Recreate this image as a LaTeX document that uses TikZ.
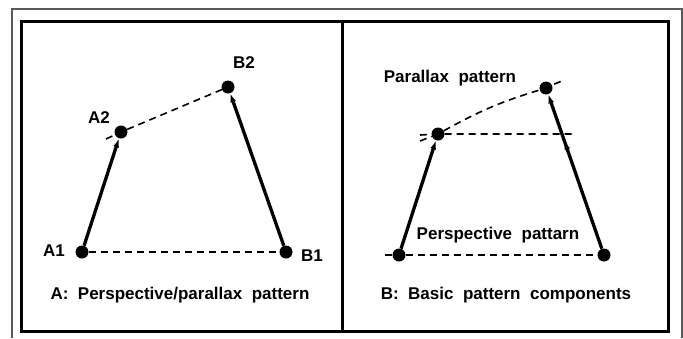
\documentclass[tikz,border=0pt]{standalone}
\usepackage{fontspec}
\setmainfont{Liberation Sans}
\usetikzlibrary{arrows.meta,decorations.markings}
\begin{document}
\begin{tikzpicture}[x=1pt,y=-1pt,
  dot/.style={circle,fill=black,inner sep=0pt,minimum size=13pt},
  lbl/.style={font=\fontsize{17}{20}\selectfont\bfseries,inner sep=0pt},
  dsh/.style={line width=1.6pt,dash pattern=on 7pt off 5pt},
  vec/.style={line width=3.3pt,-{Latex[length=9pt,width=6pt]}},
  midarrow/.style={postaction={decorate},decoration={markings,mark=at position #1 with {\arrow{Latex[length=9pt,width=6pt]}}}},
  panel/.style={line width=3pt},
  outer/.style={draw=black!65,line width=2pt}]
\useasboundingbox (0,0) rectangle (683,338);
% frames
\draw[outer] (12,338) -- (12,9) -- (682,9) -- (682,338);
\draw[panel] (21,21) rectangle (668,331);
\draw[panel] (342,21) -- (342,331);
% ---- panel A ----
\node[dot] (a1) at (82,252) {};
\node[dot] (b1) at (286,252) {};
\node[dot] (a2) at (121,132) {};
\node[dot] (b2) at (228,87) {};
\coordinate (a2x) at (106,139);
\draw[dsh] (a1) -- (b1);
\draw[dsh] (a2x) -- (a2) -- (b2);
\draw[vec] (a1) -- (a2);
\draw[vec] (b1) -- (b2);
\node[lbl] (la1) at (54,251) {A1};
\node[lbl] (lb1) at (312,256) {B1};
\node[lbl] (la2) at (99,118) {A2};
\node[lbl] (lb2) at (244,63) {B2};
\node[lbl] (capa) at (180,295) {A:\ \ Perspective/parallax\ \ pattern};
% ---- panel B ----
\node[dot] (p1) at (399,255) {};
\node[dot] (q1) at (604,255) {};
\node[dot] (p2) at (438,134) {};
\node[dot] (q2) at (546,88) {};
\coordinate (p1x) at (385,255);
\coordinate (p2h) at (420,135);
\coordinate (p2e) at (575,134);
\coordinate (p2p) at (420,141);
\coordinate (q2x) at (562,81);
\draw[dsh] (p1x) -- (p1) -- (q1);
\draw[dsh] (p2h) -- (p2) -- (p2e);
\draw[dsh] (p2p) -- (p2) to[bend left=6] (q2) -- (q2x);
\draw[vec] (p1) -- (p2);
\draw[vec,midarrow=0.7] (q1) -- (q2);
\node[lbl] (lpar) at (450,78) {Parallax\ \ pattern};
\node[lbl] (lper) at (498,235) {Perspective\ \ pattarn};
\node[lbl] (capb) at (506,295) {B:\ \ Basic\ \ pattern\ \ components};
\end{tikzpicture}
\end{document}
